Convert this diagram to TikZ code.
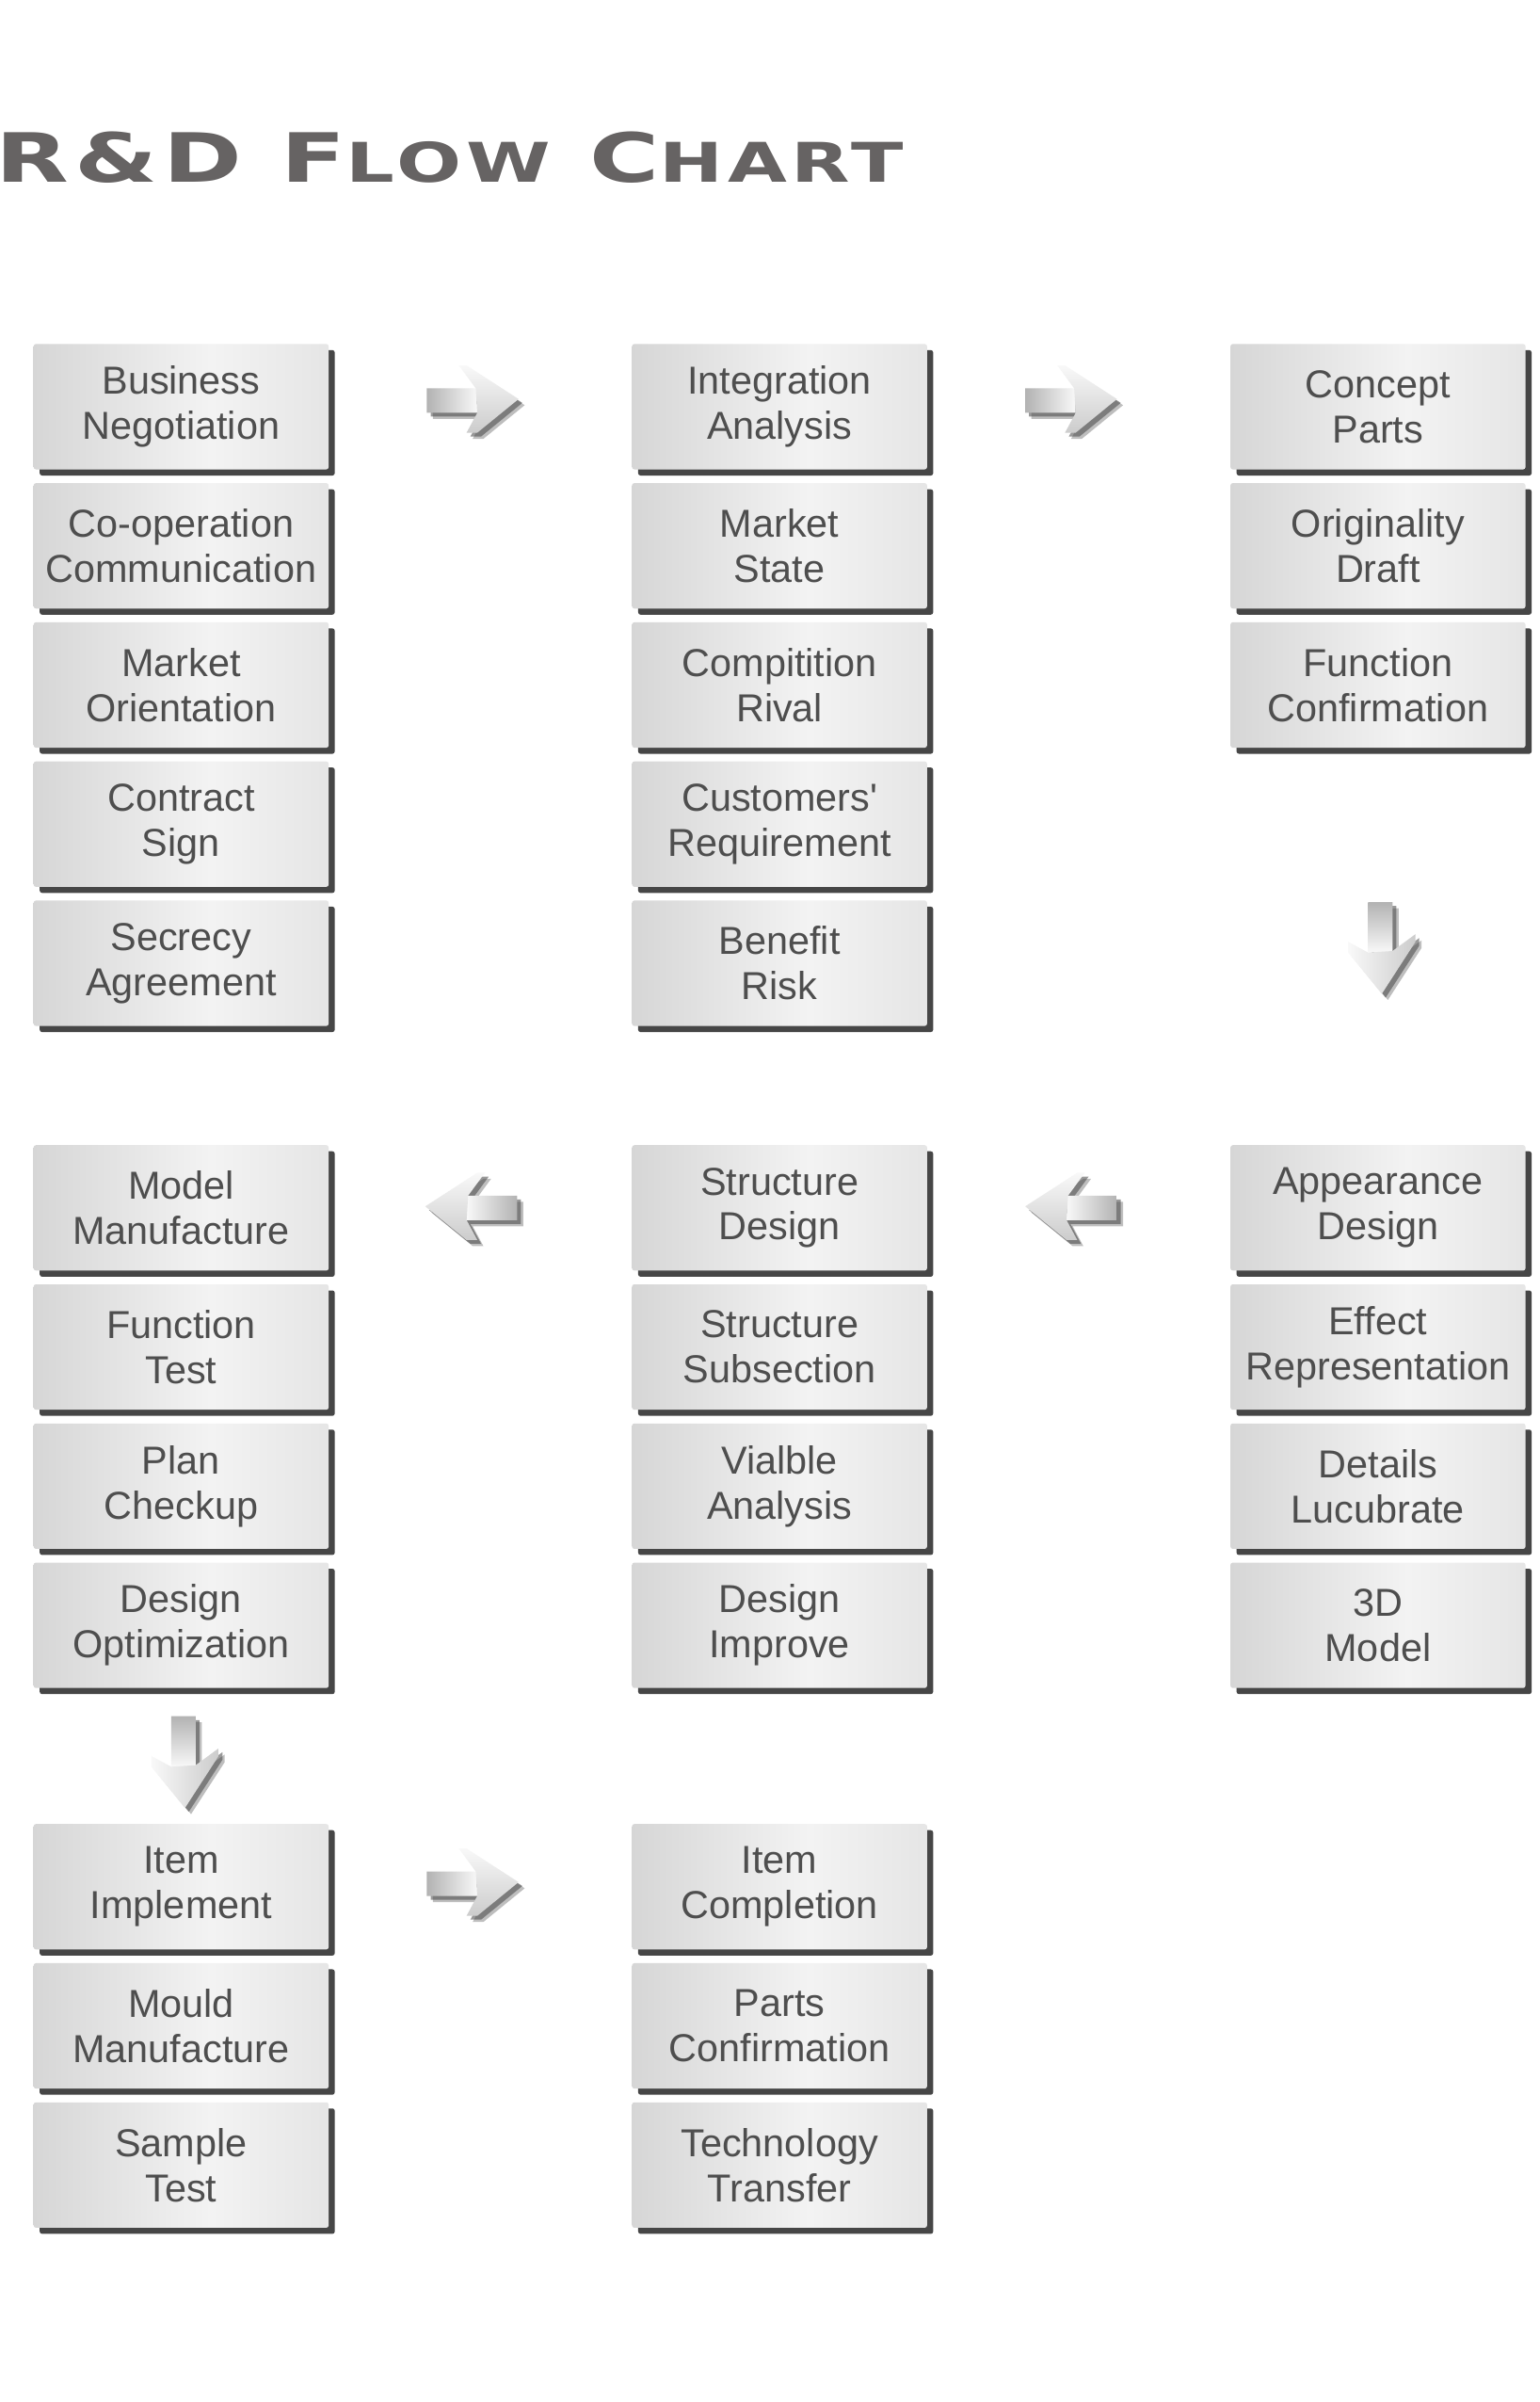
\documentclass[tikz,border=0pt]{standalone}
\usepackage{fontspec}
\setmainfont{Liberation Sans}
\newfontfamily\titlefont[LetterSpace=6]{DejaVu Sans}
\usepackage{xcolor}
\usetikzlibrary{shadows,calc}
\definecolor{titlegray}{RGB}{102,99,99}
\definecolor{textgray}{RGB}{78,78,78}
\definecolor{boxdark}{RGB}{172,172,172}
\definecolor{boxmid}{RGB}{214,214,214}
\definecolor{boxlight}{RGB}{243,243,243}
\definecolor{boxmidb}{RGB}{226,226,226}
\definecolor{boxright}{RGB}{194,194,194}
\definecolor{shadowgray}{RGB}{70,70,70}
\pgfdeclarehorizontalshading{boxshade}{100bp}{color(0bp)=(boxdark); color(25bp)=(boxmid);
  color(55bp)=(boxlight); color(80bp)=(boxmidb); color(100bp)=(boxright)}
\tikzset{
  arrowshadow/.style={drop shadow={shadow xshift=4pt, shadow yshift=-4pt, fill=shadowgray, opacity=.35},
    drop shadow={shadow xshift=2.5pt, shadow yshift=-2.5pt, fill=shadowgray, opacity=.55}},
  arrowright/.pic={
    \path[arrowshadow] (-30,-7) -- (2,-7) -- (-9,-22) -- (-4,-22) -- (30,0) -- (3,22) -- (-4,22) -- (3,9) -- (-30,9) -- cycle;
    \shade[left color=gray!60, right color=gray!5] (-30,-7) -- (2.5,-7) -- (3,9) -- (-30,9) -- cycle;
    \shade[top color=gray!5, bottom color=gray!40] (-9,-22) -- (-4,-22) -- (30,0) -- (3,22) -- (-4,22) -- (3,9) -- (2,-7) -- cycle;},
  arrowleft/.pic={
    \path[arrowshadow] (30,-7) -- (-2,-7) -- (9,-22) -- (4,-22) -- (-30,0) -- (-3,22) -- (4,22) -- (-3,9) -- (30,9) -- cycle;
    \shade[left color=gray!5, right color=gray!60] (30,-7) -- (-2.5,-7) -- (-3,9) -- (30,9) -- cycle;
    \shade[top color=gray!5, bottom color=gray!40] (9,-22) -- (4,-22) -- (-30,0) -- (-3,22) -- (4,22) -- (-3,9) -- (-2,-7) -- cycle;},
  arrowdown/.pic={
    \path[arrowshadow] (7,-30) -- (7,2) -- (22,-9) -- (22,-4) -- (0,30) -- (-22,3) -- (-22,-4) -- (-9,3) -- (-9,-30) -- cycle;
    \shade[top color=gray!60, bottom color=gray!5] (7,-30) -- (7,2.5) -- (-9,3) -- (-9,-30) -- cycle;
    \shade[left color=gray!5, right color=gray!40] (22,-9) -- (22,-4) -- (0,30) -- (-22,3) -- (-22,-4) -- (-9,3) -- (7,2) -- cycle;}
}
\begin{document}
\begin{tikzpicture}[x=1pt,y=-1pt,
  box/.style={minimum width=193pt, minimum height=82pt, inner sep=1pt, align=center,
    rounded corners=1.5pt, shading=boxshade,
    drop shadow={shadow xshift=4pt, shadow yshift=-4pt, fill=shadowgray, opacity=1},
    text=textgray, font=\fontsize{25.5}{29.5}\selectfont}]
   \fill[white] (0,0) rectangle (1007.5,1571);
   \useasboundingbox (0,0) rectangle (1007.5,1571);
   \node[anchor=south west, inner sep=0pt, text=titlegray] (title) at (-3,120)
     {\resizebox{594pt}{33pt}{\titlefont\bfseries\fontsize{46}{46}\selectfont
      R\&D F{\fontsize{37}{37}\selectfont LOW} C{\fontsize{37}{37}\selectfont HART}}};
   % first group
   \node[box] (bn) at (118.5,266) {Business\\Negotiation};
   \node[box] (cc) at (118.5,357) {Co-operation\\Communication};
   \node[box] (mo) at (118.5,448) {Market\\Orientation};
   \node[box] (cs) at (118.5,539) {Contract\\Sign};
   \node[box] (sa) at (118.5,630) {Secrecy\\Agreement};
   \node[box] (ia) at (510,266) {Integration\\Analysis};
   \node[box] (ms) at (510,357) {Market\\State};
   \node[box] (cr) at (510,448) {Compitition\\Rival};
   \node[box] (cq) at (510,539) {Customers\textquotesingle\\Requirement};
   \node[box] (br) at (510,630) {Benefit\\Risk};
   \node[box] (cp) at (901.5,266) {Concept\\Parts};
   \node[box] (od) at (901.5,357) {Originality\\Draft};
   \node[box] (fc) at (901.5,448) {Function\\Confirmation};
   % second group
   \node[box] (mm) at (118.5,790) {Model\\Manufacture};
   \node[box] (ft) at (118.5,881) {Function\\Test};
   \node[box] (pc) at (118.5,972) {Plan\\Checkup};
   \node[box] (do) at (118.5,1063) {Design\\Optimization};
   \node[box] (sd) at (510,790) {Structure\\Design};
   \node[box] (ss) at (510,881) {Structure\\Subsection};
   \node[box] (va) at (510,972) {Vialble\\Analysis};
   \node[box] (di) at (510,1063) {Design\\Improve};
   \node[box] (ad) at (901.5,790) {Appearance\\Design};
   \node[box] (er) at (901.5,881) {Effect\\Representation};
   \node[box] (dl) at (901.5,972) {Details\\Lucubrate};
   \node[box] (tm) at (901.5,1063) {3D\\Model};
   % third group
   \node[box] (ii) at (118.5,1234) {Item\\Implement};
   \node[box] (mf) at (118.5,1325) {Mould\\Manufacture};
   \node[box] (st) at (118.5,1416) {Sample\\Test};
   \node[box] (ic) at (510,1234) {Item\\Completion};
   \node[box] (pf) at (510,1325) {Parts\\Confirmation};
   \node[box] (tt) at (510,1416) {Technology\\Transfer};
   % arrows
   \pic[shift={(-5,-5)}] at ($(bn.east)!.5!(ia.west)$) {arrowright};
   \pic[shift={(-5,-5)}] at ($(ia.east)!.5!(cp.west)$) {arrowright};
   \pic[shift={(2.5,1)}] at ($(fc.south)!.5!(ad.north)$) {arrowdown};
   \pic[shift={(-5,-1)}] at ($(sd.east)!.5!(ad.west)$) {arrowleft};
   \pic[shift={(-6,-1)}] at ($(mm.east)!.5!(sd.west)$) {arrowleft};
   \pic[shift={(2.5,4)}] at ($(do.south)!.5!(ii.north)$) {arrowdown};
   \pic[shift={(-5,-3)}] at ($(ii.east)!.5!(ic.west)$) {arrowright};
\end{tikzpicture}
\end{document}
